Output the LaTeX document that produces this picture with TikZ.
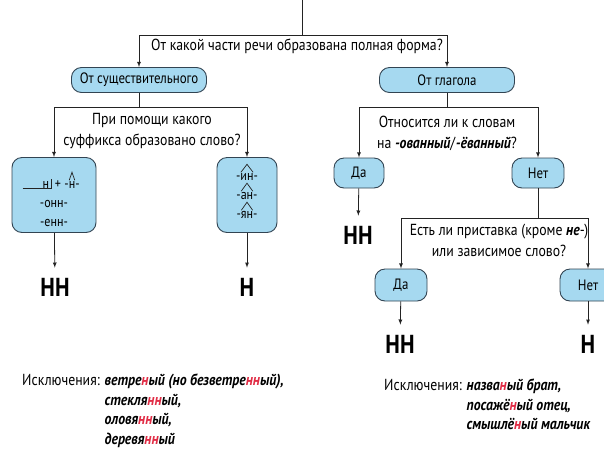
\documentclass[tikz,border=0pt]{standalone}
\usepackage{fontspec}
\setmainfont[FakeStretch=0.86]{PT Sans}
\usepackage{xcolor}
\usetikzlibrary{arrows, positioning, calc}

\definecolor{boxblue}{RGB}{166,217,240}
\definecolor{boxline}{RGB}{50,68,82}
\definecolor{linegray}{RGB}{35,35,35}
\definecolor{hlred}{RGB}{225,45,70}
\newcommand{\rd}[1]{\textcolor{hlred}{#1}}
\newcommand{\bi}[1]{\textbf{\textit{#1}}}
\newcommand{\roof}[1]{\draw[linegray, line width=0.7pt] ($(#1.north west)+(5,-1)$) -- ($(#1.north)+(0,-9)$) -- ($(#1.north east)+(-5,-1)$);}

\begin{document}
\begin{tikzpicture}[x=1pt, y=-1pt,
    ans/.style={draw=boxline, fill=boxblue, rounded corners=10pt, line width=0.9pt, minimum height=25pt, inner sep=2pt, font=\fontsize{15}{17}\selectfont},
    qtext/.style={align=center, font=\fontsize{16}{21}\selectfont},
    sfx/.style={inner sep=0pt, font=\fontsize{14}{16}\selectfont},
    big/.style={inner sep=10pt, font=\fontsize{26}{28}\selectfont\bfseries},
    exc/.style={anchor=north west, inner sep=0pt, font=\fontsize{16}{19.5}\selectfont},
    arr/.style={->, >=latex, line width=0.8pt, draw=linegray},
    ln/.style={line width=0.8pt, draw=linegray}]
    \useasboundingbox (0,0) rectangle (604,448);
    \clip (0,0) rectangle (604,448);

    \coordinate (start) at (302,0);
    \coordinate (j1) at (302,35);
    \node[qtext] (q1) at (297,46) {От какой части речи образована полная форма?};
    \node[ans, minimum width=135pt] (noun) at (139,80) {От существительного};
    \node[ans, minimum width=135pt] (verb) at (447,80) {От глагола};
    \draw[ln] (start) -- (j1);
    \draw[arr] (j1) -| (noun);
    \draw[arr] (j1) -| (verb);

    % noun branch
    \coordinate (j2) at (139,107);
    \node[qtext] (q2) at (152,131) {При помощи какого\\суффикса образовано слово?};
    \node[ans, minimum width=84pt, minimum height=75pt] (sufnn) at (54,195) {};
    \node[ans, minimum width=60pt, minimum height=75pt] (sufn) at (247,195) {};
    \draw[ln] (noun) -- (j2);
    \draw[arr] (j2) -| (sufnn);
    \draw[arr] (j2) -| (sufn);

    \node[sfx] (rootn) at (46,185) {н};
    \node[sfx] (plus) at (58,185) {+};
    \node[sfx] (sn) at (72,185) {-н-};
    \node[sfx] (onn) at (54,204) {-онн-};
    \node[sfx] (enn) at (54,223) {-енн-};
    \draw[linegray, line width=0.7pt] ($(rootn.base west)+(-20,0)$) -- ($(rootn.base east)+(2,0)$) -- ++(0,-10);
    \roof{sn}

    \node[sfx] (in) at (247,177) {-ин-};
    \node[sfx] (an) at (247,196) {-ан-};
    \node[sfx] (yan) at (247,215) {-ян-};
    \roof{in}
    \roof{an}
    \roof{yan}

    \node[big] (nn1) at (55,287) {НН};
    \node[big] (n1) at (247,287) {Н};
    \draw[arr] (sufnn) -- (nn1);
    \draw[arr] (sufn) -- (n1);

    % verb branch
    \coordinate (j3) at (447,107);
    \node[qtext] (q3) at (447,133) {Относится ли к словам\\на \bi{-ованный}/\bi{-ёванный}?};
    \node[ans, minimum width=50pt, minimum height=30pt] (da1) at (359,173) {Да};
    \node[ans, minimum width=52pt, minimum height=30pt] (net1) at (538,173) {Нет};
    \draw[ln] (verb) -- (j3);
    \draw[arr] (j3) -| (da1);
    \draw[arr] (j3) -| (net1);
    \node[big] (nn2) at (358,235) {НН};
    \draw[arr] (da1) -- (nn2);

    \coordinate (j4) at (538,218);
    \node[qtext] (q4) at (499,240) {Есть ли приставка (кроме \bi{не}-)\\или зависимое слово?};
    \node[ans, minimum width=52pt, minimum height=32pt] (da2) at (401,285) {Да};
    \node[ans, minimum width=56pt, minimum height=32pt] (net2) at (588,285) {Нет};
    \draw[ln] (net1) -- (j4);
    \draw[arr] (j4) -| (da2);
    \draw[arr] (j4) -| (net2);
    \node[big] (nn3) at (400,344) {НН};
    \node[big] (n3) at (588,344) {Н};
    \draw[arr] (da2) -- (nn3);
    \draw[arr] (net2) -- (n3);

    % exceptions
    \node[exc] (exa) at (22,372) {\begin{tabular}{@{}l@{ }l@{}}
        Исключения: & \bi{ветре\rd{н}ый (но безветре\rd{нн}ый),}\\
        & \bi{стекля\rd{нн}ый,}\\
        & \bi{оловя\rd{нн}ый,}\\
        & \bi{деревя\rd{нн}ый}
    \end{tabular}};
    \node[exc] (exb) at (384,377) {\begin{tabular}{@{}l@{ }l@{}}
        Исключения: & \bi{назва\rd{н}ый брат,}\\
        & \bi{посажё\rd{н}ый отец,}\\
        & \bi{смышлё\rd{н}ый мальчик}
    \end{tabular}};
\end{tikzpicture}
\end{document}
